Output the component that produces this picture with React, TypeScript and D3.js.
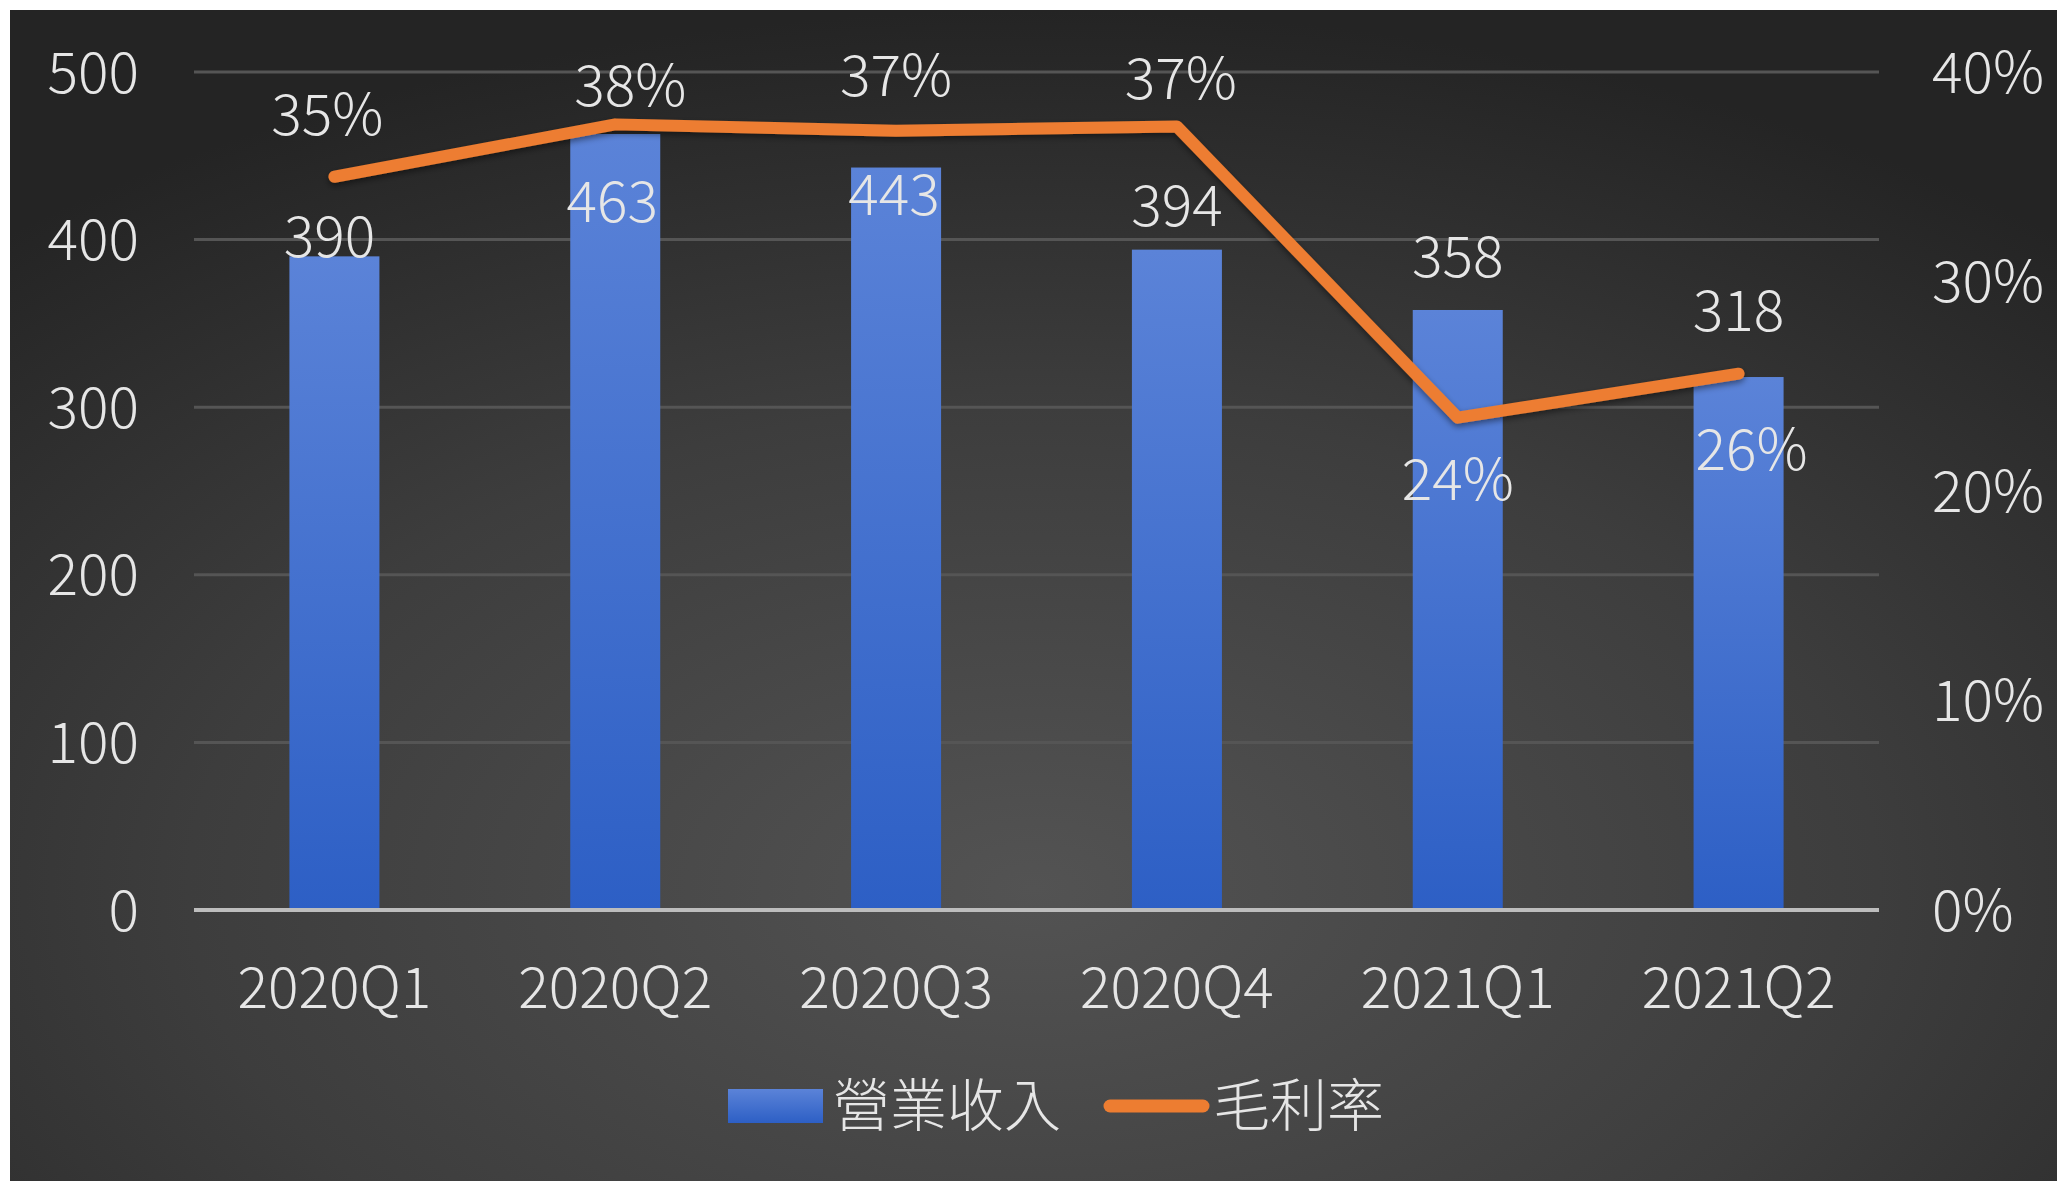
import React from "react";
import * as d3 from "d3";

const categories = ["2020Q1", "2020Q2", "2020Q3", "2020Q4", "2021Q1", "2021Q2"];
const revenue = [390, 463, 443, 394, 358, 318];
const margin = [0.35, 0.375, 0.372, 0.374, 0.235, 0.256];
const marginLabels = ["35%", "38%", "37%", "37%", "24%", "26%"];
const leftTicks = [0, 100, 200, 300, 400, 500];
const rightTicks = [0, 0.1, 0.2, 0.3, 0.4];
const seriesNames = ["營業收入", "毛利率"];

// label offsets (styling)
const barLabelDy = [-20, 67, 27, -44, -54, -67];
const barLabelDx = [-5, -3, -2, 0, 0, 0];
const pctLabelDy = [-62, -39, -55, -48, 62, 76];
const pctLabelDx = [-7, 15, 0, 4, 0, 13];

const W = 2057;
const H = 1181;
const FONT = "'Noto Sans CJK TC', 'Noto Sans', sans-serif";
const TXT = "#e6e6e6";
const FW = 300;
const FS = 57;

export default function App() {
  const x = d3.scaleBand<string>().domain(categories).range([194, 1879]).padding(0);
  const yL = d3.scaleLinear().domain([0, 500]).range([910, 72]);
  const yR = d3.scaleLinear().domain([0, 0.4]).range([910, 72]);
  const barW = 90;
  const cx = (c: string) => (x(c) as number) + x.bandwidth() / 2;

  const line = d3
    .line<number>()
    .x((_, i) => cx(categories[i]))
    .y((d) => yR(d));

  return (
    <svg
      width={W}
      height={H}
      style={{ position: "absolute", left: 0, top: 0, display: "block" }}
      fontFamily={FONT}
      fontWeight={FW}
    >
      <defs>
        <radialGradient id="bg" cx="50%" cy="75%" r="75%" fx="50%" fy="75%">
          <stop offset="0%" stopColor="#535353" />
          <stop offset="55%" stopColor="#3d3d3d" />
          <stop offset="100%" stopColor="#242424" />
        </radialGradient>
        <linearGradient id="barGrad" x1="0" y1="0" x2="0" y2="1">
          <stop offset="0%" stopColor="#5b83d8" />
          <stop offset="100%" stopColor="#2d5fc5" />
        </linearGradient>
        <filter id="shadow" x="-10%" y="-10%" width="120%" height="130%">
          <feDropShadow dx="0" dy="3" stdDeviation="3" floodColor="#000" floodOpacity="0.45" />
        </filter>
      </defs>
      <rect x={0} y={0} width={W} height={H} fill="#ffffff" />
      <rect x={10} y={10} width={W - 10} height={H - 10} fill="url(#bg)" />

      {/* gridlines */}
      {leftTicks.slice(1).map((t) => (
        <line key={t} x1={194} x2={1879} y1={yL(t)} y2={yL(t)} stroke="#555555" strokeWidth={3} />
      ))}

      {/* bars */}
      {categories.map((c, i) => (
        <rect
          key={c}
          x={cx(c) - barW / 2}
          y={yL(revenue[i])}
          width={barW}
          height={yL(0) - yL(revenue[i])}
          fill="url(#barGrad)"
        />
      ))}

      {/* baseline */}
      <line x1={194} x2={1879} y1={yL(0)} y2={yL(0)} stroke="#bdbdbd" strokeWidth={4} />

      {/* left ticks */}
      {leftTicks.map((t) => (
        <text key={t} x={139} y={yL(t)} dy="0.36em" textAnchor="end" fill={TXT} fontSize={FS}>
          {t}
        </text>
      ))}
      {/* right ticks */}
      {rightTicks.map((t) => (
        <text key={t} x={1932} y={yR(t)} dy="0.36em" textAnchor="start" fill={TXT} fontSize={FS}>
          {d3.format(".0%")(t)}
        </text>
      ))}

      {/* x labels */}
      {categories.map((c) => (
        <text key={c} x={cx(c)} y={987} dy="0.36em" textAnchor="middle" fill={TXT} fontSize={FS}>
          {c}
        </text>
      ))}

      {/* line */}
      <path
        d={line(margin) || ""}
        fill="none"
        stroke="#ed7d31"
        strokeWidth={12}
        strokeLinecap="round"
        strokeLinejoin="round"
        filter="url(#shadow)"
      />

      {/* bar labels */}
      {categories.map((c, i) => (
        <text
          key={c}
          x={cx(c) + barLabelDx[i]}
          y={yL(revenue[i]) + barLabelDy[i]}
          dy="0.36em"
          textAnchor="middle"
          fill={TXT}
          fontSize={FS}
        >
          {revenue[i]}
        </text>
      ))}

      {/* pct labels */}
      {categories.map((c, i) => (
        <text
          key={c}
          x={cx(c) + pctLabelDx[i]}
          y={yR(margin[i]) + pctLabelDy[i]}
          dy="0.36em"
          textAnchor="middle"
          fill={TXT}
          fontSize={FS}
        >
          {marginLabels[i]}
        </text>
      ))}

      {/* legend */}
      <rect x={728} y={1089} width={95} height={34} fill="url(#barGrad)" />
      <text x={833} y={1105} dy="0.36em" fill={TXT} fontSize={FS}>
        {seriesNames[0]}
      </text>
      <line
        x1={1110}
        x2={1203}
        y1={1106}
        y2={1106}
        stroke="#ed7d31"
        strokeWidth={13}
        strokeLinecap="round"
      />
      <text x={1213} y={1105} dy="0.36em" fill={TXT} fontSize={FS}>
        {seriesNames[1]}
      </text>
    </svg>
  );
}
